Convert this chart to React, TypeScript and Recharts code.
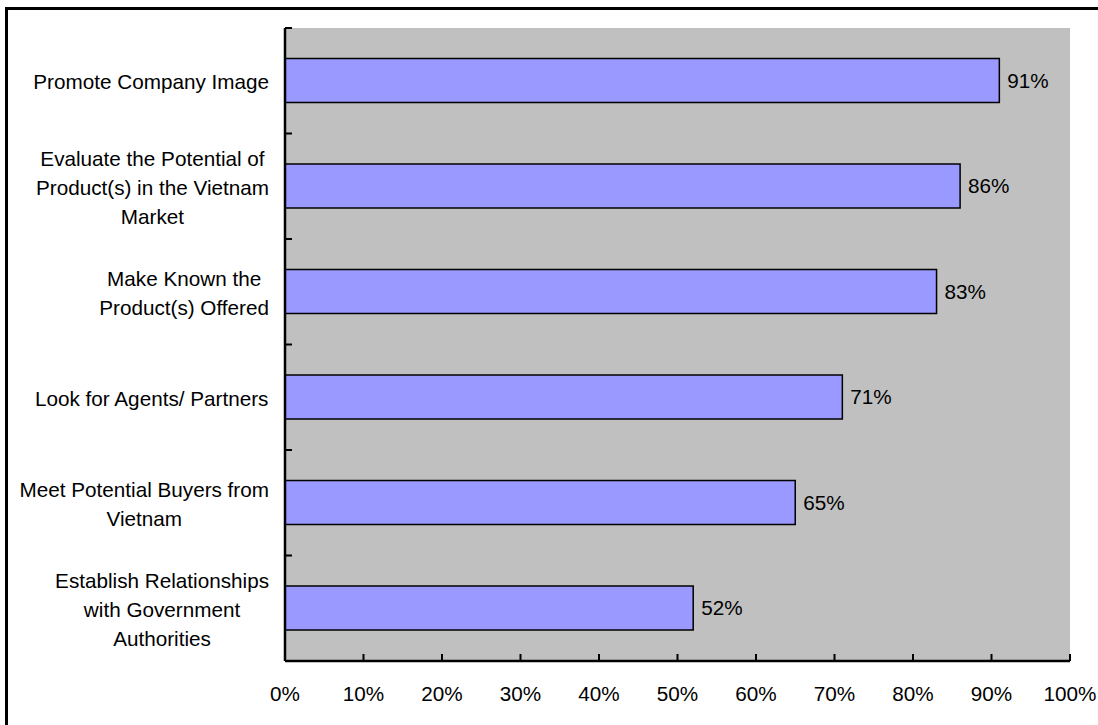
import React from 'react';
import {
  BarChart,
  Bar,
  XAxis,
  YAxis,
  CartesianGrid,
  LabelList,
} from 'recharts';

// Category labels ("\n" marks the line breaks seen in the picture)
const categories = [
  'Promote Company Image',
  'Evaluate the Potential of\nProduct(s) in the Vietnam\nMarket',
  'Make Known the\nProduct(s) Offered',
  'Look for Agents/ Partners',
  'Meet Potential Buyers from\nVietnam',
  'Establish Relationships\nwith Government\nAuthorities',
];
const shares = [91, 86, 83, 71, 65, 52];
const xTicks = [0, 10, 20, 30, 40, 50, 60, 70, 80, 90, 100];

const chartData = categories.map((name, i) => ({ name, value: shares[i] }));

const FONT = '"Liberation Sans", Arial, Helvetica, sans-serif';
const FONT_SIZE = 20.7;
const LINE_H = 29;

const CHART_W = 1098;
const CHART_H = 725;
const MARGIN = { top: 28, right: 28, bottom: 0, left: 0 };
const Y_AXIS_W = 285;
const X_AXIS_H = 64;
const PLOT_H = CHART_H - MARGIN.top - MARGIN.bottom - X_AXIS_H;
const BAND = PLOT_H / categories.length;

let ctx: CanvasRenderingContext2D | null = null;
const measure = (s: string) => {
  if (!ctx) ctx = document.createElement('canvas').getContext('2d');
  if (!ctx) return s.length * FONT_SIZE * 0.5;
  ctx.font = `${FONT_SIZE}px ${FONT}`;
  return ctx.measureText(s).width;
};

// category label: block right-aligned next to the axis, lines centred in the block
const YTick = (props: any) => {
  const { x, y, payload } = props;
  const lines = String(payload.value).split('\n');
  const maxW = Math.max(...lines.map(measure));
  const cx = x - 16 - maxW / 2;
  const top = y + 1 - ((lines.length - 1) * LINE_H) / 2;
  return (
    <g>
      <line x1={x} x2={x + 7} y1={y - BAND / 2} y2={y - BAND / 2} stroke="#000" strokeWidth={2} />
      <text
        x={cx}
        y={top}
        textAnchor="middle"
        fontSize={FONT_SIZE}
        fontFamily={FONT}
        fill="#000"
      >
        {lines.map((l, i) => (
          <tspan key={i} x={cx} y={top + i * LINE_H + 7.5}>
            {l}
          </tspan>
        ))}
      </text>
    </g>
  );
};

const XTick = (props: any) => {
  const { x, y, payload } = props;
  return (
    <g>
      <line x1={x} x2={x} y1={y - 7} y2={y} stroke="#000" strokeWidth={2} />
      <text
        x={x}
        y={y + 40}
        textAnchor="middle"
        fontSize={FONT_SIZE}
        fontFamily={FONT}
        fill="#000"
      >
        {`${payload.value}%`}
      </text>
    </g>
  );
};

export default function App() {
  return (
    <div
      style={{
        position: 'fixed',
        left: 0,
        top: 0,
        width: CHART_W,
        height: CHART_H,
        background: '#fff',
        overflow: 'hidden',
      }}
    >
      {/* outer frame, runs off the right and bottom edges */}
      <div
        style={{
          position: 'absolute',
          left: 5,
          top: 7,
          width: CHART_W + 20,
          height: CHART_H + 20,
          borderLeft: '3px solid #000',
          borderTop: '3px solid #000',
        }}
      />
      <div style={{ position: 'absolute', left: 0, top: 0 }}>
        <BarChart
          width={CHART_W}
          height={CHART_H}
          data={chartData}
          layout="vertical"
          margin={MARGIN}
          barCategoryGap="29%"
        >
          <CartesianGrid fill="#C0C0C0" stroke="none" />
          <XAxis
            type="number"
            domain={[0, 100]}
            ticks={xTicks}
            interval={0}
            height={X_AXIS_H}
            tickSize={0}
            tickMargin={0}
            tickLine={false}
            axisLine={{ stroke: '#000', strokeWidth: 2.5 }}
            tick={<XTick />}
          />
          <XAxis
            xAxisId="top"
            orientation="top"
            type="number"
            domain={[0, 100]}
            height={0}
            tick={false}
            tickLine={false}
            axisLine={{ stroke: '#808080', strokeWidth: 2 }}
          />
          <YAxis
            type="category"
            dataKey="name"
            width={Y_AXIS_W}
            interval={0}
            tickSize={0}
            tickMargin={0}
            tickLine={false}
            axisLine={{ stroke: '#000', strokeWidth: 2.5 }}
            tick={<YTick />}
          />
          <YAxis
            yAxisId="right"
            orientation="right"
            type="category"
            dataKey="name"
            width={0}
            tick={false}
            tickLine={false}
            axisLine={{ stroke: '#808080', strokeWidth: 2 }}
          />
          <Bar
            dataKey="value"
            fill="#9999FF"
            stroke="#000"
            strokeWidth={1.5}
            isAnimationActive={false}
          >
            <LabelList
              dataKey="value"
              position="right"
              offset={8}
              fill="#000"
              fontSize={FONT_SIZE}
              fontFamily={FONT}
              formatter={(v: any) => `${v}%`}
            />
          </Bar>
        </BarChart>
      </div>
    </div>
  );
}
